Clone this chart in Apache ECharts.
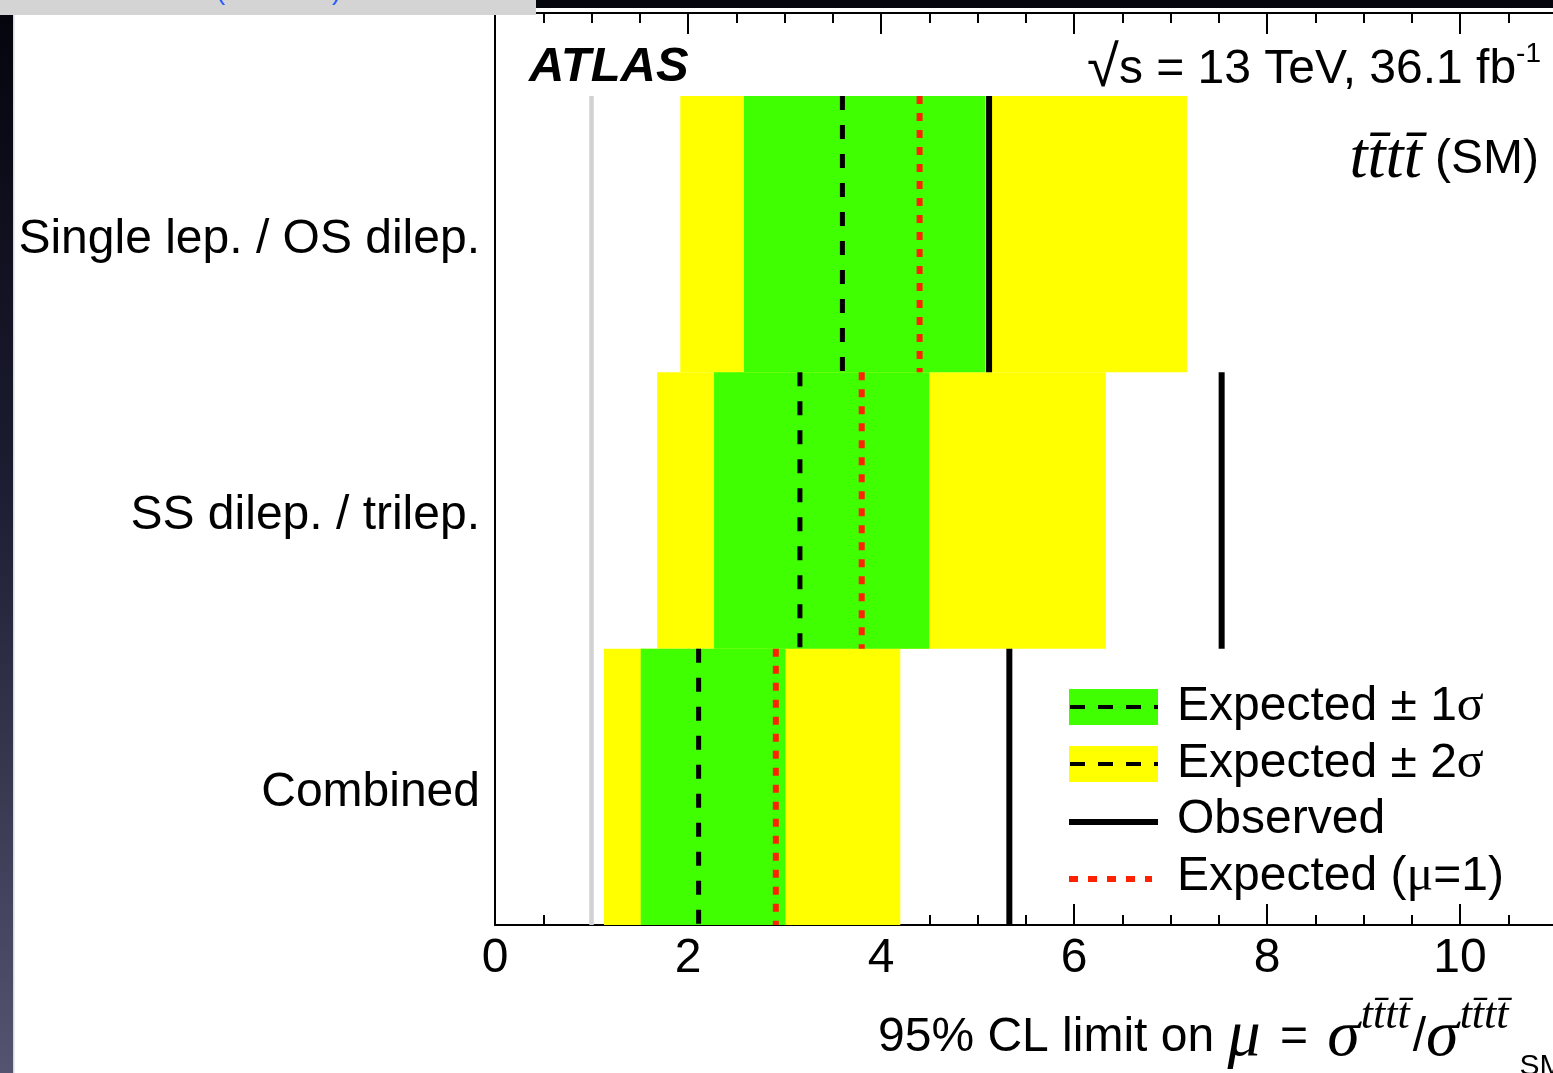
<!DOCTYPE html>
<html>
<head>
<meta charset="utf-8">
<script src="https://cdn.jsdelivr.net/npm/echarts@6/dist/echarts.min.js"></script>
<style>
  html, body { margin: 0; padding: 0; background: #fff; }
  #chart { width: 1553px; height: 1073px; }
</style>
</head>
<body>
<div id="chart"></div>
<script>
// Channels, listed from the bottom row upwards
const categories = ['Combined', 'SS dilep. / trilep.', 'Single lep. / OS dilep.'];

// 95% CL upper limits on mu for each channel
const observed    = [5.33, 7.53, 5.12];
const expected    = [2.11, 3.16, 3.60];
const expMinus2   = [1.13, 1.68, 1.92];
const expMinus1   = [1.51, 2.27, 2.58];
const expPlus1    = [3.01, 4.50, 5.08];
const expPlus2    = [4.20, 6.33, 7.17];
const expectedMu1 = [2.91, 3.80, 4.40];

// Standard-model reference (mu = 1)
const smReference = [1];

// Horizontal axis range and label step
const xMin = 0;
const xMax = 12;
const xStep = 2;

const FONT = '"Liberation Sans", Arial, Helvetica, sans-serif';
const SERIF = '"Liberation Serif", "Times New Roman", serif';
const YELLOW = '#ffff00';
const GREEN = '#40ff00';
const RED = '#ff2200';

function bandRenderer(color) {
  return function (params, api) {
    const row = api.value(0);
    const tl = api.coord([api.value(1), row + 1]);
    const br = api.coord([api.value(2), row]);
    return {
      type: 'rect',
      shape: { x: tl[0], y: tl[1], width: br[0] - tl[0], height: br[1] - tl[1] },
      style: { fill: color }
    };
  };
}

function rowLineRenderer(stroke, width, dash) {
  return function (params, api) {
    const row = api.value(0);
    const top = api.coord([api.value(1), row + 1]);
    const bottom = api.coord([api.value(1), row]);
    return {
      type: 'line',
      shape: { x1: top[0], y1: top[1], x2: bottom[0], y2: bottom[1] },
      style: { stroke: stroke, lineWidth: width, lineDash: dash || null, lineCap: 'butt' }
    };
  };
}

function fullLineRenderer(stroke, width) {
  return function (params, api) {
    const top = api.coord([api.value(0), categories.length]);
    const bottom = api.coord([api.value(0), 0]);
    return {
      type: 'line',
      shape: { x1: top[0], y1: top[1], x2: bottom[0], y2: bottom[1] },
      style: { stroke: stroke, lineWidth: width }
    };
  };
}

const rows = categories.map((c, i) => i);
const bandData = (lo, hi) => rows.map(i => [i, lo[i], hi[i]]);
const lineData = (vals) => rows.map(i => [i, vals[i]]);

function xAxisBase(position, showLabels) {
  return {
    type: 'value',
    position: position,
    min: xMin,
    max: xMax,
    interval: xStep,
    axisLine: { show: true, onZero: false, lineStyle: { color: '#000', width: 2 } },
    axisTick: { show: true, inside: true, length: 21, lineStyle: { color: '#000', width: 2 } },
    minorTick: { show: true, splitNumber: 4, length: 10, lineStyle: { color: '#000', width: 2 } },
    splitLine: { show: false },
    minorSplitLine: { show: false },
    axisLabel: {
      show: showLabels,
      fontSize: 48,
      fontFamily: FONT,
      color: '#000',
      margin: 10
    }
  };
}

const chart = echarts.init(document.getElementById('chart'), null, { renderer: 'canvas' });

chart.setOption({
  animation: false,
  backgroundColor: '#ffffff',
  grid: {
    left: 495,
    top: 13,
    width: 1158,
    height: 912,
    containLabel: false,
    outerBoundsMode: 'none'
  },
  xAxis: [xAxisBase('bottom', true), xAxisBase('top', false)],
  yAxis: [{
    type: 'value',
    min: 0,
    max: 3.3,
    axisLine: { show: true, onZero: false, lineStyle: { color: '#000', width: 2 } },
    axisTick: { show: false },
    splitLine: { show: false },
    axisLabel: {
      show: true,
      customValues: [0.5, 1.5, 2.5],
      formatter: function (v) { return '{c|' + categories[Math.floor(v)] + '}'; },
      color: '#000',
      margin: 15,
      rich: {
        c: { fontSize: 48, fontFamily: FONT, color: '#000', padding: [11, 0, 0, 0] }
      }
    }
  }],
  series: [
    {
      name: 'SM reference',
      type: 'custom',
      xAxisIndex: 0,
      renderItem: fullLineRenderer('#d2d2d2', 4.5),
      encode: { x: 0 },
      data: smReference.map(v => [v])
    },
    {
      name: 'Expected ± 2σ',
      type: 'custom',
      xAxisIndex: 0,
      renderItem: bandRenderer(YELLOW),
      encode: { x: [1, 2], y: 0 },
      data: bandData(expMinus2, expPlus2)
    },
    {
      name: 'Expected ± 1σ',
      type: 'custom',
      xAxisIndex: 0,
      renderItem: bandRenderer(GREEN),
      encode: { x: [1, 2], y: 0 },
      data: bandData(expMinus1, expPlus1)
    },
    {
      name: 'Expected',
      type: 'custom',
      xAxisIndex: 0,
      renderItem: rowLineRenderer('#000', 5, [14, 15]),
      encode: { x: 1, y: 0 },
      data: lineData(expected)
    },
    {
      name: 'Expected (μ=1)',
      type: 'custom',
      xAxisIndex: 0,
      renderItem: rowLineRenderer(RED, 6, [8, 9]),
      encode: { x: 1, y: 0 },
      data: lineData(expectedMu1)
    },
    {
      name: 'Observed',
      type: 'custom',
      xAxisIndex: 0,
      renderItem: rowLineRenderer('#000', 6),
      encode: { x: 1, y: 0 },
      data: lineData(observed)
    }
  ],
  graphic: [
    // page frame around the figure
    { type: 'rect', z: 100, shape: { x: 0, y: 0, width: 536, height: 15 }, style: { fill: '#d4d4d4' } },
    { type: 'rect', z: 100, shape: { x: 536, y: 0, width: 1017, height: 8 }, style: { fill: '#05050d' } },
    {
      type: 'text', z: 101, x: 216, y: 5,
      style: { text: '(', font: '28px ' + FONT, fill: '#2b5cff', align: 'left', verticalAlign: 'bottom', textAlign: 'left', textVerticalAlign: 'bottom' }
    },
    {
      type: 'text', z: 101, x: 332, y: 5,
      style: { text: ')', font: '28px ' + FONT, fill: '#2b5cff', align: 'left', verticalAlign: 'bottom', textAlign: 'left', textVerticalAlign: 'bottom' }
    },
    {
      type: 'rect', z: 100,
      shape: { x: 0, y: 15, width: 13, height: 1058 },
      style: {
        fill: new echarts.graphic.LinearGradient(0, 0, 0, 1, [
          { offset: 0, color: '#05050e' },
          { offset: 0.45, color: '#1d1d33' },
          { offset: 1, color: '#53546f' }
        ])
      }
    },
    { type: 'rect', z: 100, shape: { x: 13, y: 15, width: 1.5, height: 1058 }, style: { fill: '#d6d7de' } },

    // experiment label
    {
      type: 'text', z: 50, x: 529, y: 67,
      style: {
        text: 'ATLAS', font: 'italic bold 49px ' + FONT, fill: '#000',
        align: 'left', verticalAlign: 'middle', textAlign: 'left', textVerticalAlign: 'middle'
      }
    },
    {
      type: 'text', z: 50, x: 1541, y: 70,
      style: {
        text: '{r|√}s = 13 TeV, 36.1 fb{sup|-1}',
        font: '48px ' + FONT, fill: '#000', lineHeight: 60,
        align: 'right', verticalAlign: 'middle', textAlign: 'right', textVerticalAlign: 'middle',
        rich: {
          r: { fontSize: 58, fontFamily: FONT, lineHeight: 60 },
          sup: { fontSize: 28, fontFamily: FONT, lineHeight: 28, verticalAlign: 'top' }
        }
      }
    },
    {
      type: 'text', z: 50, x: 1539, y: 160,
      style: {
        text: '{t|tt\u0304tt\u0304} (SM)',
        font: '48px ' + FONT, fill: '#000', lineHeight: 66,
        align: 'right', verticalAlign: 'middle', textAlign: 'right', textVerticalAlign: 'middle',
        rich: { t: { fontSize: 65, fontFamily: SERIF, fontStyle: 'italic', lineHeight: 66 } }
      }
    },

    // axis title
    {
      type: 'text', z: 50, x: 878, y: 1038,
      style: {
        text: '95% CL limit on {g|μ} {eq|=} {g|σ}{sup|tt\u0304tt\u0304}/{g|σ}{sup|tt\u0304tt\u0304}{sub|SM}',
        font: '48px ' + FONT, fill: '#000', lineHeight: 88,
        align: 'left', verticalAlign: 'middle', textAlign: 'left', textVerticalAlign: 'middle',
        rich: {
          g: { fontSize: 66, fontFamily: SERIF, fontStyle: 'italic', lineHeight: 88 },
          eq: { fontSize: 48, fontFamily: FONT, lineHeight: 88, padding: [0, 6, 0, 6] },
          sup: { fontSize: 44, fontFamily: SERIF, fontStyle: 'italic', lineHeight: 44, verticalAlign: 'top', padding: [0, 3, 0, 1] },
          sub: { fontSize: 30, fontFamily: FONT, lineHeight: 34, verticalAlign: 'bottom', padding: [0, 0, 0, 8] }
        }
      }
    },

    // legend
    { type: 'rect', z: 60, shape: { x: 1069, y: 689, width: 89, height: 36 }, style: { fill: GREEN } },
    { type: 'line', z: 61, shape: { x1: 1070, y1: 707, x2: 1158, y2: 707 }, style: { stroke: '#000', lineWidth: 4, lineDash: [15, 13] } },
    { type: 'rect', z: 60, shape: { x: 1069, y: 746, width: 89, height: 36 }, style: { fill: YELLOW } },
    { type: 'line', z: 61, shape: { x1: 1070, y1: 764, x2: 1158, y2: 764 }, style: { stroke: '#000', lineWidth: 4, lineDash: [15, 13] } },
    { type: 'line', z: 61, shape: { x1: 1069, y1: 822, x2: 1158, y2: 822 }, style: { stroke: '#000', lineWidth: 6 } },
    { type: 'line', z: 61, shape: { x1: 1069, y1: 879, x2: 1152, y2: 879 }, style: { stroke: RED, lineWidth: 6, lineDash: [9, 10] } },
    {
      type: 'text', z: 61, x: 1177, y: 707,
      style: {
        text: 'Expected ± 1{s|σ}', font: '48px ' + FONT, fill: '#000',
        align: 'left', verticalAlign: 'middle', textAlign: 'left', textVerticalAlign: 'middle',
        rich: { s: { fontSize: 50, fontFamily: SERIF } }
      }
    },
    {
      type: 'text', z: 61, x: 1177, y: 764,
      style: {
        text: 'Expected ± 2{s|σ}', font: '48px ' + FONT, fill: '#000',
        align: 'left', verticalAlign: 'middle', textAlign: 'left', textVerticalAlign: 'middle',
        rich: { s: { fontSize: 50, fontFamily: SERIF } }
      }
    },
    {
      type: 'text', z: 61, x: 1177, y: 820,
      style: {
        text: 'Observed', font: '48px ' + FONT, fill: '#000',
        align: 'left', verticalAlign: 'middle', textAlign: 'left', textVerticalAlign: 'middle'
      }
    },
    {
      type: 'text', z: 61, x: 1177, y: 877,
      style: {
        text: 'Expected ({s|μ}=1)', font: '48px ' + FONT, fill: '#000',
        align: 'left', verticalAlign: 'middle', textAlign: 'left', textVerticalAlign: 'middle',
        rich: { s: { fontSize: 50, fontFamily: SERIF } }
      }
    }
  ]
});
</script>
</body>
</html>
